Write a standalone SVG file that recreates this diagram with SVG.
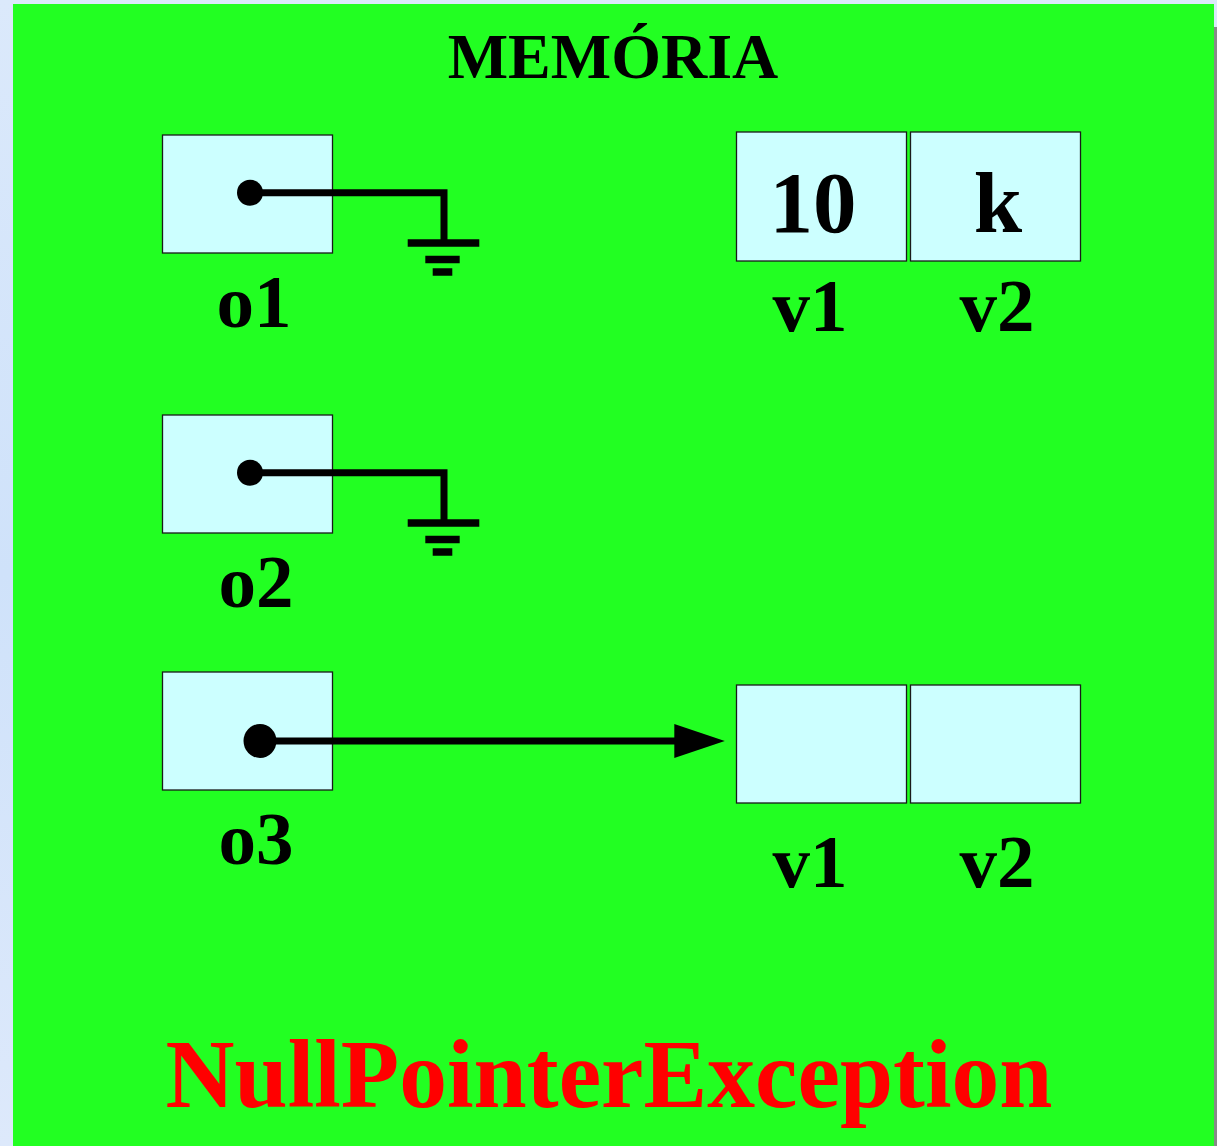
<svg xmlns="http://www.w3.org/2000/svg" width="1217" height="1146" viewBox="0 0 1217 1146">
<defs>
<linearGradient id="side" x1="0" y1="0" x2="0" y2="1">
<stop offset="0" stop-color="#dbe9fb"/>
<stop offset="0.5" stop-color="#cfe2fa"/>
<stop offset="1" stop-color="#dde9fb"/>
</linearGradient>
<marker id="arrow" markerWidth="10" markerHeight="10" refX="0" refY="5" orient="auto" markerUnits="userSpaceOnUse" viewBox="0 0 10 10">
<path d="M0,0 L10,5 L0,10 Z" fill="#000"/>
</marker>
</defs>
<style>
.cell{fill:#ccffff;stroke:#1a1a1a;stroke-width:1.3}
.lbl{font-family:"Liberation Serif","Times New Roman",serif;font-weight:bold;fill:#000}
.wire{stroke:#000;stroke-width:7;fill:none}
.gnd{stroke:#000;stroke-width:7.5;fill:none}
</style>
<rect x="0" y="0" width="1217" height="1146" fill="url(#side)"/>
<rect x="1214" y="27" width="3" height="1119" fill="#888888"/>
<rect x="13" y="4" width="1201" height="1142" fill="#22ff22"/>

<text id="title" class="lbl" x="613" y="77.7" font-size="64" text-anchor="middle">MEMÓRIA</text>

<g id="o1">
<rect class="cell" x="162.5" y="135" width="170" height="118"/>
<text class="lbl" x="254" y="326.7" font-size="75" text-anchor="middle">o1</text>
</g>
<g id="o2">
<rect class="cell" x="162.5" y="415" width="170" height="118"/>
<text class="lbl" x="256" y="606.7" font-size="75" text-anchor="middle">o2</text>
</g>
<g id="o3">
<rect class="cell" x="162.5" y="672" width="170" height="118"/>
<text class="lbl" x="256" y="864" font-size="75" text-anchor="middle">o3</text>
</g>

<g id="obj1">
<rect class="cell" x="736.5" y="132" width="170" height="129"/>
<rect class="cell" x="910.5" y="132" width="170" height="129"/>
<text class="lbl" x="813" y="231.7" font-size="87" text-anchor="middle">10</text>
<text class="lbl" x="998" y="231.7" font-size="87" text-anchor="middle">k</text>
<text class="lbl" x="810" y="330.7" font-size="75" text-anchor="middle">v1</text>
<text class="lbl" x="997" y="330.7" font-size="75" text-anchor="middle">v2</text>
</g>

<g id="obj2">
<rect class="cell" x="736.5" y="685" width="170" height="118"/>
<rect class="cell" x="910.5" y="685" width="170" height="118"/>
<text class="lbl" x="810" y="886.7" font-size="75" text-anchor="middle">v1</text>
<text class="lbl" x="997" y="886.7" font-size="75" text-anchor="middle">v2</text>
</g>

<g id="connectors">
<circle cx="250" cy="192.7" r="13"/>
<polyline class="wire" points="250,192.7 444,192.7 444,243"/>
<line class="gnd" x1="407.7" y1="243" x2="479.3" y2="243"/>
<line class="gnd" x1="425.3" y1="259.5" x2="459.7" y2="259.5"/>
<line class="gnd" x1="432.7" y1="272" x2="452.3" y2="272"/>

<circle cx="250" cy="472.7" r="13"/>
<polyline class="wire" points="250,472.7 444,472.7 444,523"/>
<line class="gnd" x1="407.7" y1="523" x2="479.3" y2="523"/>
<line class="gnd" x1="425.3" y1="539.5" x2="459.7" y2="539.5"/>
<line class="gnd" x1="432.7" y1="552" x2="452.3" y2="552"/>

<ellipse cx="260" cy="741" rx="16.5" ry="17"/>
<line class="wire" x1="260" y1="741" x2="676" y2="741" stroke-width="7.7"/>
<path d="M674.3,724 L724.8,741 L674.3,758 Z" fill="#000"/>
</g>

<text id="error" x="609" y="1107.3" font-family="'Liberation Serif','Times New Roman',serif" font-weight="bold" font-size="97" fill="#ff0000" text-anchor="middle" textLength="887" lengthAdjust="spacingAndGlyphs">NullPointerException</text>
</svg>
